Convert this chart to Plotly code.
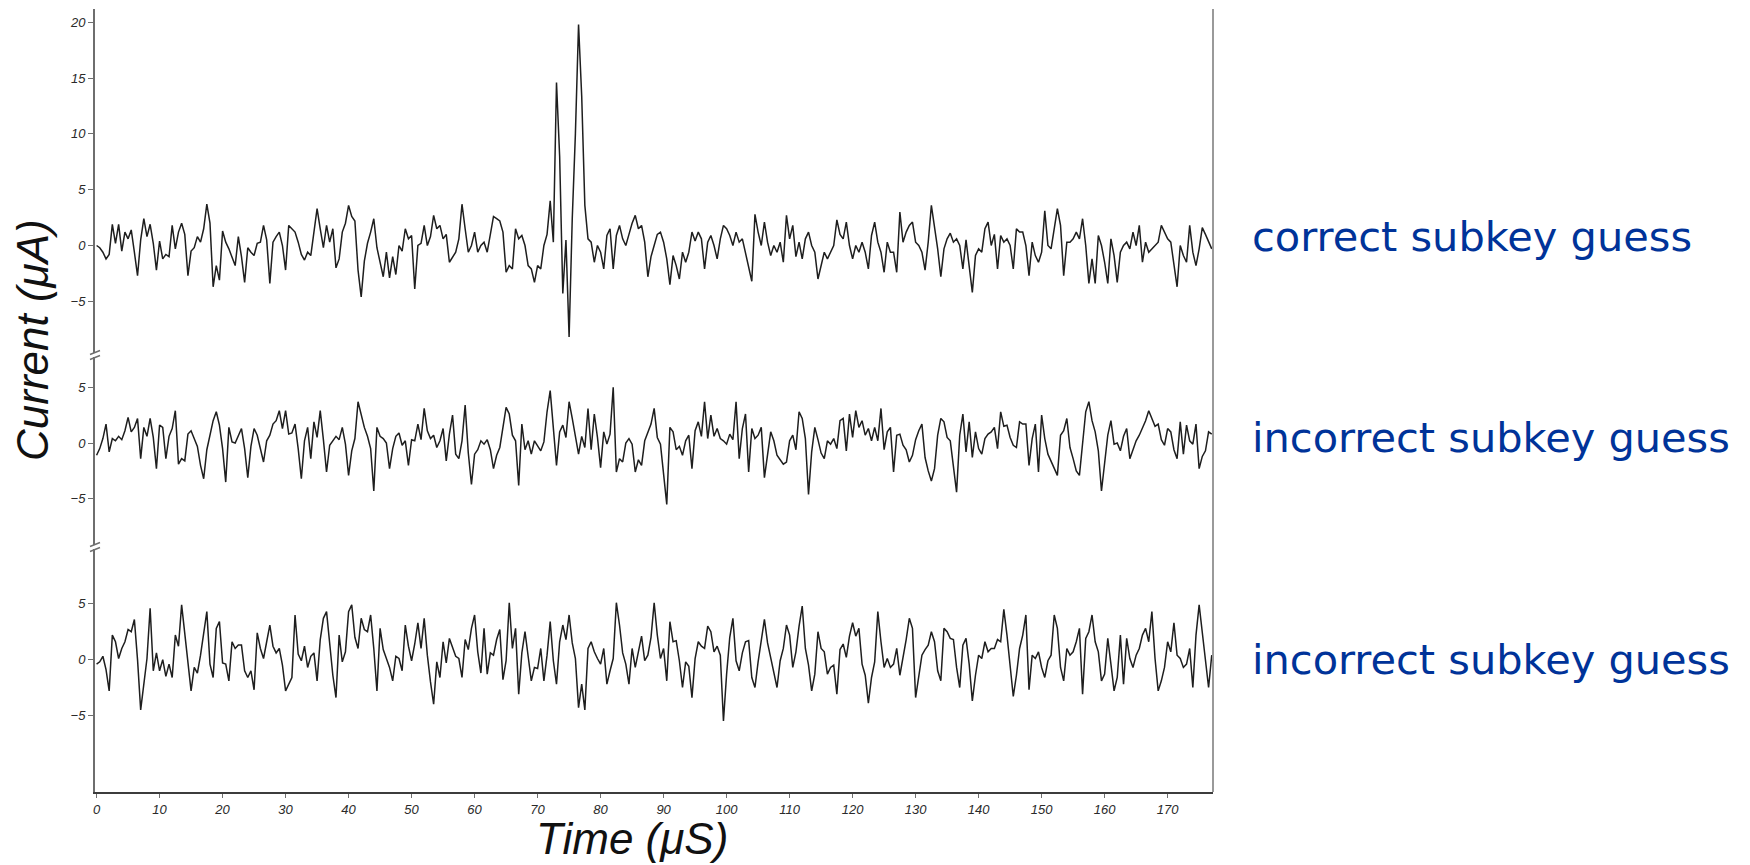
import plotly.graph_objects as go

# ---------------- data (0.5 µs sampling) ----------------
SAMPLE_STEP_US = 0.5

correct_guess = [
    # 0 - 59 us
    0.0, -0.2, -0.6, -1.2, -0.8, 1.9, 0.2, 1.9, -0.5, 1.2, 0.6, 1.4, -0.6, -2.7, 0.5, 2.4, 0.8, 1.9, 0.2, -2.2,
    0.4, -1.2, -0.8, -1.0, 1.8, -0.3, 1.2, 2.0, 1.0, -2.7, -0.5, -0.2, 0.8, 0.3, 1.5, 3.7, 2.0, -3.7, -1.8, -3.1,
    1.3, 0.3, -0.3, -1.0, -1.8, 0.8, -1.0, -3.3, -0.2, -0.6, -0.9, 0.2, 0.3, 1.8, 0.5, -3.4, 0.3, 0.8, 1.2, 0.0,
    -2.2, 1.8, 1.5, 1.2, 0.3, -0.8, -1.3, -0.6, -0.9, 1.0, 3.3, 1.5, -0.2, 1.8, 0.3, 1.5, -2.0, -1.2, 1.2, 2.0,
    3.6, 2.6, 2.2, -2.2, -4.6, -1.4, 0.2, 1.2, 2.4, -0.2, -1.4, -2.8, -0.6, -2.9, -1.0, -2.6, 0.0, -0.5, 1.5, 0.6,
    0.9, -3.9, 0.0, 0.2, 1.8, 0.0, 0.8, 2.7, 1.5, 1.8, 0.6, 1.0, -1.5, -1.0, -0.6, 0.6, 3.7, 1.5, -0.6,
    # 59.5 - 118 us
    0.0, 1.2, -0.6, 0.0, 0.3, -0.6, 1.0, 2.6, 2.4, 2.2, 1.2, -2.4, -1.8, -2.1, 1.5, 0.6, 0.9, 0.0, -1.8, -2.1,
    -3.3, -1.8, -2.1, 0.0, 1.0, 4.0, 0.3, 14.6, 8.0, -4.3, 0.5, -8.2, 2.4, 10.0, 19.8, 13.4, 3.6, 0.6, 0.3, -1.5,
    0.0, -0.6, -2.1, 0.9, 1.5, -2.1, 0.9, 1.8, 0.6, 0.0, 1.0, 2.0, 2.7, 1.5, 1.8, 0.3, -2.8, -1.0, 0.0, 1.0,
    1.2, 0.3, -1.2, -3.5, -0.9, -1.8, -3.0, -0.6, -1.5, -0.6, 1.2, 0.4, 1.2, 0.6, -2.1, 0.3, 0.9, 0.0, -1.2, 0.6,
    1.8, 1.5, 0.9, 0.0, 1.2, 0.3, 0.6, -0.6, -1.8, -3.2, 2.8, 1.2, 0.0, 2.1, 0.3, -0.9, 0.0, -0.6, 0.3, -1.5,
    2.7, 0.6, 1.8, -1.0, 0.3, -1.2, 0.6, 1.2, 0.0, -0.6, -3.0, -1.8, -0.6, -1.2, -0.6, 0.0, 2.3, 1.0,
    # 118.5 - 177 us
    0.6, 2.1, 0.0, -1.2, 0.0, -0.6, 0.3, -0.6, -2.1, 0.9, 2.1, 0.3, -0.6, -2.4, 0.3, -0.6, -0.6, -2.4, 3.0, 0.3,
    1.2, 1.8, 2.1, 0.3, 0.0, -0.6, -2.2, 0.3, 3.6, 1.8, -0.3, -2.8, -0.3, 0.6, 1.1, 0.3, 0.6, 0.0, -2.1, 0.5,
    -1.8, -4.2, -0.9, -0.3, -0.6, 1.5, 2.1, 0.0, 1.0, -2.1, 0.9, 0.3, 0.6, 0.0, -2.1, 1.5, 1.2, 1.2, 0.0, -2.7,
    0.3, -0.9, -1.5, -0.6, 3.1, 0.0, -0.3, 1.5, 3.3, 1.8, -2.7, 0.3, 0.3, 0.6, 1.2, 0.6, 2.4, 0.0, -3.4, -1.2,
    -3.4, 0.9, 0.0, -1.5, -3.4, 0.6, -0.9, -3.3, -0.6, 0.0, 0.3, -0.3, 1.2, 0.0, 1.8, -1.5, 0.3, -0.6, -0.3, 0.0,
    0.3, 1.8, 1.2, 0.6, 0.3, -1.8, -3.7, 0.0, -0.9, -1.5, 1.8, -0.6, -1.8, -0.3, 1.6, 1.0, 0.3, -0.3,
]

incorrect_guess_a = [
    # 0 - 59 us
    -1.1, -0.5, 0.4, 1.7, -0.8, 0.4, 0.2, 0.6, 0.3, 1.1, 2.3, 1.0, 1.4, 2.2, -1.4, 1.4, 0.6, 2.2, 0.5, -2.3,
    1.6, 1.4, -1.4, 0.6, 1.3, 2.9, -1.9, -1.4, -1.6, 0.8, 1.1, 0.3, -0.3, -2.0, -3.2, -0.6, 0.8, 2.0, 2.8, 1.6,
    -0.5, -3.5, 1.4, 0.1, 0.0, 0.7, 1.3, -0.5, -3.1, -0.3, 1.3, 0.7, -0.6, -1.7, 0.2, 0.7, 1.7, 2.0, 2.9, 1.3,
    2.9, 0.8, 0.9, 1.7, -0.5, -3.2, 0.2, 1.4, -1.4, 1.9, 0.5, 2.9, 0.3, -2.6, -0.2, 0.2, 0.6, 0.3, 1.4, -0.1,
    -2.9, -0.7, 0.4, 3.7, 2.6, 1.4, 0.6, -0.5, -4.3, 1.4, 0.6, 0.4, 0.0, -2.3, -0.5, 0.6, 0.9, -0.2, 0.2, -2.0,
    0.3, 0.2, 1.7, 0.3, 3.1, 1.1, 0.4, 0.7, -0.4, 0.2, 1.3, -1.6, 0.8, 2.5, -1.0, -1.4, 0.2, 3.4, -0.9,
    # 59.5 - 118 us
    -3.7, -1.0, -0.6, 0.2, -0.1, 0.3, -0.6, -2.3, -1.1, -0.4, 1.5, 3.2, 2.6, 0.7, 0.2, -3.8, 1.7, -0.6, 0.2, -1.0,
    0.2, -0.3, -0.7, 0.1, 2.8, 4.7, 1.4, -2.0, 1.0, 1.6, 0.5, 3.7, 2.2, 0.7, -1.0, 0.6, -0.4, 3.1, -0.6, 2.6,
    0.5, -2.2, 1.0, -0.1, 0.8, 5.0, -2.6, -1.4, -1.7, 0.0, 0.4, -0.1, -2.6, -1.5, -2.0, 0.2, 0.9, 1.7, 3.1, 0.5,
    -0.1, -2.9, -5.5, 1.4, 1.0, -0.6, -0.3, -1.1, 0.2, 0.7, -2.3, 1.1, 1.9, 0.6, 3.7, 0.4, 2.5, 0.6, 1.3, 0.4,
    0.2, -0.1, 0.8, 0.3, 3.7, -1.4, 1.3, 2.6, -2.6, 1.3, 0.4, 0.7, 1.4, -3.1, -0.8, 1.0, 0.2, -1.1, -1.5, -1.9,
    -1.7, 0.2, 0.7, -0.6, 2.8, 2.2, 0.4, -4.6, -0.8, 1.4, 0.3, -0.9, -1.4, 0.2, -0.1, 0.4, -0.5, 2.0,
    # 118.5 - 177 us
    2.2, -0.7, 2.6, 0.5, 2.9, 1.4, 2.0, 0.7, 1.3, 0.2, 1.4, 0.2, 3.1, -0.6, 1.0, 1.4, -2.6, 0.7, 0.8, -0.2,
    -0.6, -1.7, -1.1, 0.3, 1.1, 1.7, -1.3, -2.5, -3.4, -2.3, 0.7, 2.2, 1.9, 0.5, 0.2, -2.0, -4.4, 0.7, 2.6, -0.8,
    1.9, -1.3, 1.0, -0.5, -1.0, 0.4, 0.8, 1.0, 1.4, -0.5, 2.8, 1.5, 1.6, 0.5, -0.2, -0.4, 1.9, 1.7, 1.7, -2.0,
    0.4, 1.7, -2.6, 2.5, 0.4, -1.0, -1.6, -2.2, -2.9, 0.7, 1.1, 2.2, -0.4, -1.4, -2.5, -2.9, -0.2, 2.8, 3.7, 2.0,
    1.0, -0.7, -4.3, -2.0, 0.7, 2.0, -0.1, 0.0, -0.7, 0.6, 1.3, -1.4, -0.6, 0.2, 0.7, 1.4, 2.0, 2.9, 2.2, 1.5,
    1.7, 0.3, -0.2, 1.3, 1.0, -0.6, -1.4, 1.9, -1.0, 1.6, 0.2, -0.1, 1.7, -2.3, -1.2, -0.7, 1.0, 0.8,
]

incorrect_guess_b = [
    # 0 - 59 us
    -0.4, -0.2, 0.3, -0.9, -2.8, 2.2, 1.6, 0.1, 1.0, 1.6, 2.7, 2.5, 3.6, 0.0, -4.5, -1.9, 0.1, 4.6, -1.0, 0.6,
    -1.0, 0.0, -1.5, -0.4, -1.6, 2.2, 1.2, 4.9, 2.5, -0.2, -2.8, -0.7, -1.2, 0.4, 2.2, 4.3, -0.4, -1.6, 2.8, 3.4,
    -0.3, -0.4, -1.9, 1.6, 1.0, 1.3, 1.3, -1.0, -1.6, -1.0, -2.7, 2.4, 1.0, 0.1, 1.6, 3.1, 1.2, 0.6, 1.0, -0.5,
    -2.8, -2.2, -1.6, 4.0, 0.5, -0.1, 1.2, -0.7, 0.3, 0.6, -1.9, 1.8, 3.7, 4.3, 1.5, -1.4, -3.4, 2.2, -0.2, 0.7,
    4.3, 4.9, 2.0, 1.0, 3.7, 2.7, 2.5, 4.0, 1.0, -2.8, 2.8, 0.9, 0.1, -0.7, -1.9, 0.3, 0.1, -1.0, 3.1, 1.2,
    -0.1, 1.4, 3.3, 1.0, 3.7, 0.4, -2.0, -4.0, -0.2, -1.6, 1.6, -0.3, 1.9, 1.0, 0.3, 0.1, -1.6, 1.8, 0.9,
    # 59.5 - 118 us
    2.8, 4.0, 0.7, -1.2, 2.8, -1.3, 0.6, 0.4, 1.8, 2.7, -1.8, -0.1, 5.1, 1.0, 2.8, -3.1, 0.6, 2.5, 0.3, -1.9,
    -0.7, -0.8, 1.0, -1.9, 0.4, 3.4, -0.1, -2.2, 1.6, 3.1, 1.8, 4.0, 1.5, 0.1, -4.3, -2.2, -4.5, 1.0, 1.6, 0.7,
    0.1, -0.4, 1.0, -2.2, -1.0, 0.1, 5.1, 3.1, 0.6, -0.4, -2.2, 1.0, -0.7, 0.7, 2.1, -0.1, 0.4, 2.0, 5.1, 2.2,
    0.1, 1.0, -1.9, 3.4, 1.6, 1.7, -0.1, -2.5, -0.2, -0.6, -3.4, 0.1, 1.6, 1.2, 1.0, 3.0, 2.5, 0.7, 1.2, 0.4,
    -5.5, -1.3, 2.0, 3.7, -0.1, -1.0, 0.6, 1.6, 1.7, -1.6, -2.5, -0.2, 1.9, 3.6, 1.5, 0.1, -1.0, -2.5, -0.1, 1.0,
    3.1, 2.2, -0.7, 0.7, 3.0, 4.8, 1.0, -0.5, -2.8, -1.3, 2.5, 1.0, 0.7, -1.3, -0.7, -0.5, -3.1, 0.9,
    # 118.5 - 177 us
    1.4, 0.2, 2.1, 3.3, 2.1, 2.8, -0.4, -1.4, -3.9, -1.6, -0.2, 4.3, 1.6, -0.7, 0.1, -0.7, -0.4, 1.0, -1.4, 0.1,
    1.8, 3.7, 2.8, -3.4, -1.4, 0.4, 0.9, 1.3, 2.5, 1.6, -1.0, -1.9, 2.8, 2.5, 1.9, 1.8, -0.7, -2.5, 1.3, 1.9,
    -0.4, -3.7, -1.4, 0.4, 0.1, 1.6, 0.7, 1.0, 1.0, 1.8, 1.6, 4.5, 2.2, -0.4, -3.3, -1.4, 1.0, 2.2, 4.0, -2.7,
    0.4, 0.1, 0.7, -0.7, -1.6, -0.1, 0.4, 4.0, 2.8, -0.7, -1.9, 1.0, 0.4, 0.7, 1.6, 2.8, -3.1, 1.9, 2.5, 4.0,
    1.6, 0.7, -1.9, -1.3, 1.9, -0.4, -2.8, -1.6, 2.2, -2.2, 1.9, 0.1, -0.7, 0.4, 1.0, 2.2, 2.8, 1.6, 4.3, 0.1,
    -2.8, -1.9, -0.7, 1.6, 0.7, 3.3, 0.4, 0.1, -0.7, -0.4, 1.0, -2.5, 2.2, 4.9, 2.5, 0.1, -2.5, 0.4,
]

series_labels = ["correct subkey guess", "incorrect subkey guess", "incorrect subkey guess"]
x_tick_values = list(range(0, 180, 10))
top_y_ticks = [-5, 0, 5, 10, 15, 20]
lower_y_ticks = [-5, 0, 5]
x_title = "Time (μS)"
y_title = "Current (μA)"

# ---------------- figure ----------------
W, H = 1750, 865
ML, MR, MT, MB = 95, 537, 9, 73
PW, PH = W - ML - MR, H - MT - MB
px_x = 1.0 / PW
px_y = 1.0 / PH

b1 = (792 - 355) / PH     # boundary top/middle
b2 = (792 - 547) / PH     # boundary middle/bottom

line_col = "#1e1e1e"
tick_font = dict(family="Liberation Sans, Arial, sans-serif", size=13, color="#2a2a2a", style="italic")
axis_common = dict(showline=True, linecolor="#6e6e6e", linewidth=2, ticks="outside", ticklen=5,
                   tickcolor="#6e6e6e", tickwidth=1, showgrid=False, zeroline=False, tickfont=tick_font)

fig = go.Figure()
for vals, ya in [(correct_guess, "y"), (incorrect_guess_a, "y2"), (incorrect_guess_b, "y3")]:
    t = [i * SAMPLE_STEP_US for i in range(len(vals))]
    fig.add_trace(go.Scatter(x=t, y=vals, mode="lines", yaxis=ya, xaxis="x",
                             line=dict(color=line_col, width=1.5), showlegend=False, hoverinfo="skip"))

fig.update_layout(
    width=W, height=H,
    margin=dict(l=ML, r=MR, t=MT, b=MB),
    paper_bgcolor="white", plot_bgcolor="white",
    xaxis=dict(anchor="y3", range=[-0.25, 177.2], tickvals=x_tick_values, ticklen=4,
               **{k: v for k, v in axis_common.items() if k != "ticklen"}),
    yaxis=dict(domain=[b1, 1.0], range=[-9.81, 21.19], tickvals=top_y_ticks, anchor="x", **axis_common),
    yaxis2=dict(domain=[b2, b1], range=[-9.32, 7.89], tickvals=lower_y_ticks, anchor="x", **axis_common),
    yaxis3=dict(domain=[0.0, b2], range=[-11.86, 10.09], tickvals=lower_y_ticks, anchor="x", **axis_common),
)
fig.update_xaxes(linecolor="#3c3c3c")

shapes = []
# right border line
shapes.append(dict(type="line", xref="paper", yref="paper", x0=1, x1=1, y0=0, y1=1,
                   line=dict(color="#9a9a9a", width=2)))
# axis break marks
for b in (b1, b2):
    shapes.append(dict(type="rect", xref="paper", yref="paper", x0=-4 * px_x, x1=4 * px_x,
                       y0=b - 2 * px_y, y1=b + 2 * px_y, fillcolor="white", line=dict(width=0)))
    for off in (-2.5, 2.5):
        shapes.append(dict(type="line", xref="paper", yref="paper",
                           x0=-5 * px_x, x1=5 * px_x,
                           y0=b + (off - 2) * px_y, y1=b + (off + 2) * px_y,
                           line=dict(color="#6e6e6e", width=1.5)))
fig.update_layout(shapes=shapes)

title_font = dict(family="Liberation Sans Narrow, Liberation Sans, Arial, sans-serif", size=44,
                  color="#111111", style="italic")
annotations = [
    dict(text=y_title, xref="paper", yref="paper", x=(33 - ML) * px_x, y=(792 - 340) * px_y,
         textangle=-90, showarrow=False, font=title_font, xanchor="center", yanchor="middle"),
    dict(text=x_title, xref="paper", yref="paper", x=(632 - ML) * px_x, y=(792 - 838) * px_y,
         showarrow=False, font=title_font, xanchor="center", yanchor="middle"),
]
label_centers = [237, 437, 659]
for lab, cy in zip(series_labels, label_centers):
    annotations.append(dict(text=lab, xref="paper", yref="paper", x=(1250 - ML) * px_x,
                            y=(792 - cy) * px_y, showarrow=False, xanchor="left", yanchor="middle",
                            font=dict(family="DejaVu Sans, Verdana, sans-serif", size=41.5, color="#003399")))
fig.update_layout(annotations=annotations)

fig.write_html("out.html", config={"displayModeBar": False},
               post_script="document.body.style.margin='0';document.body.style.overflow='hidden';")
